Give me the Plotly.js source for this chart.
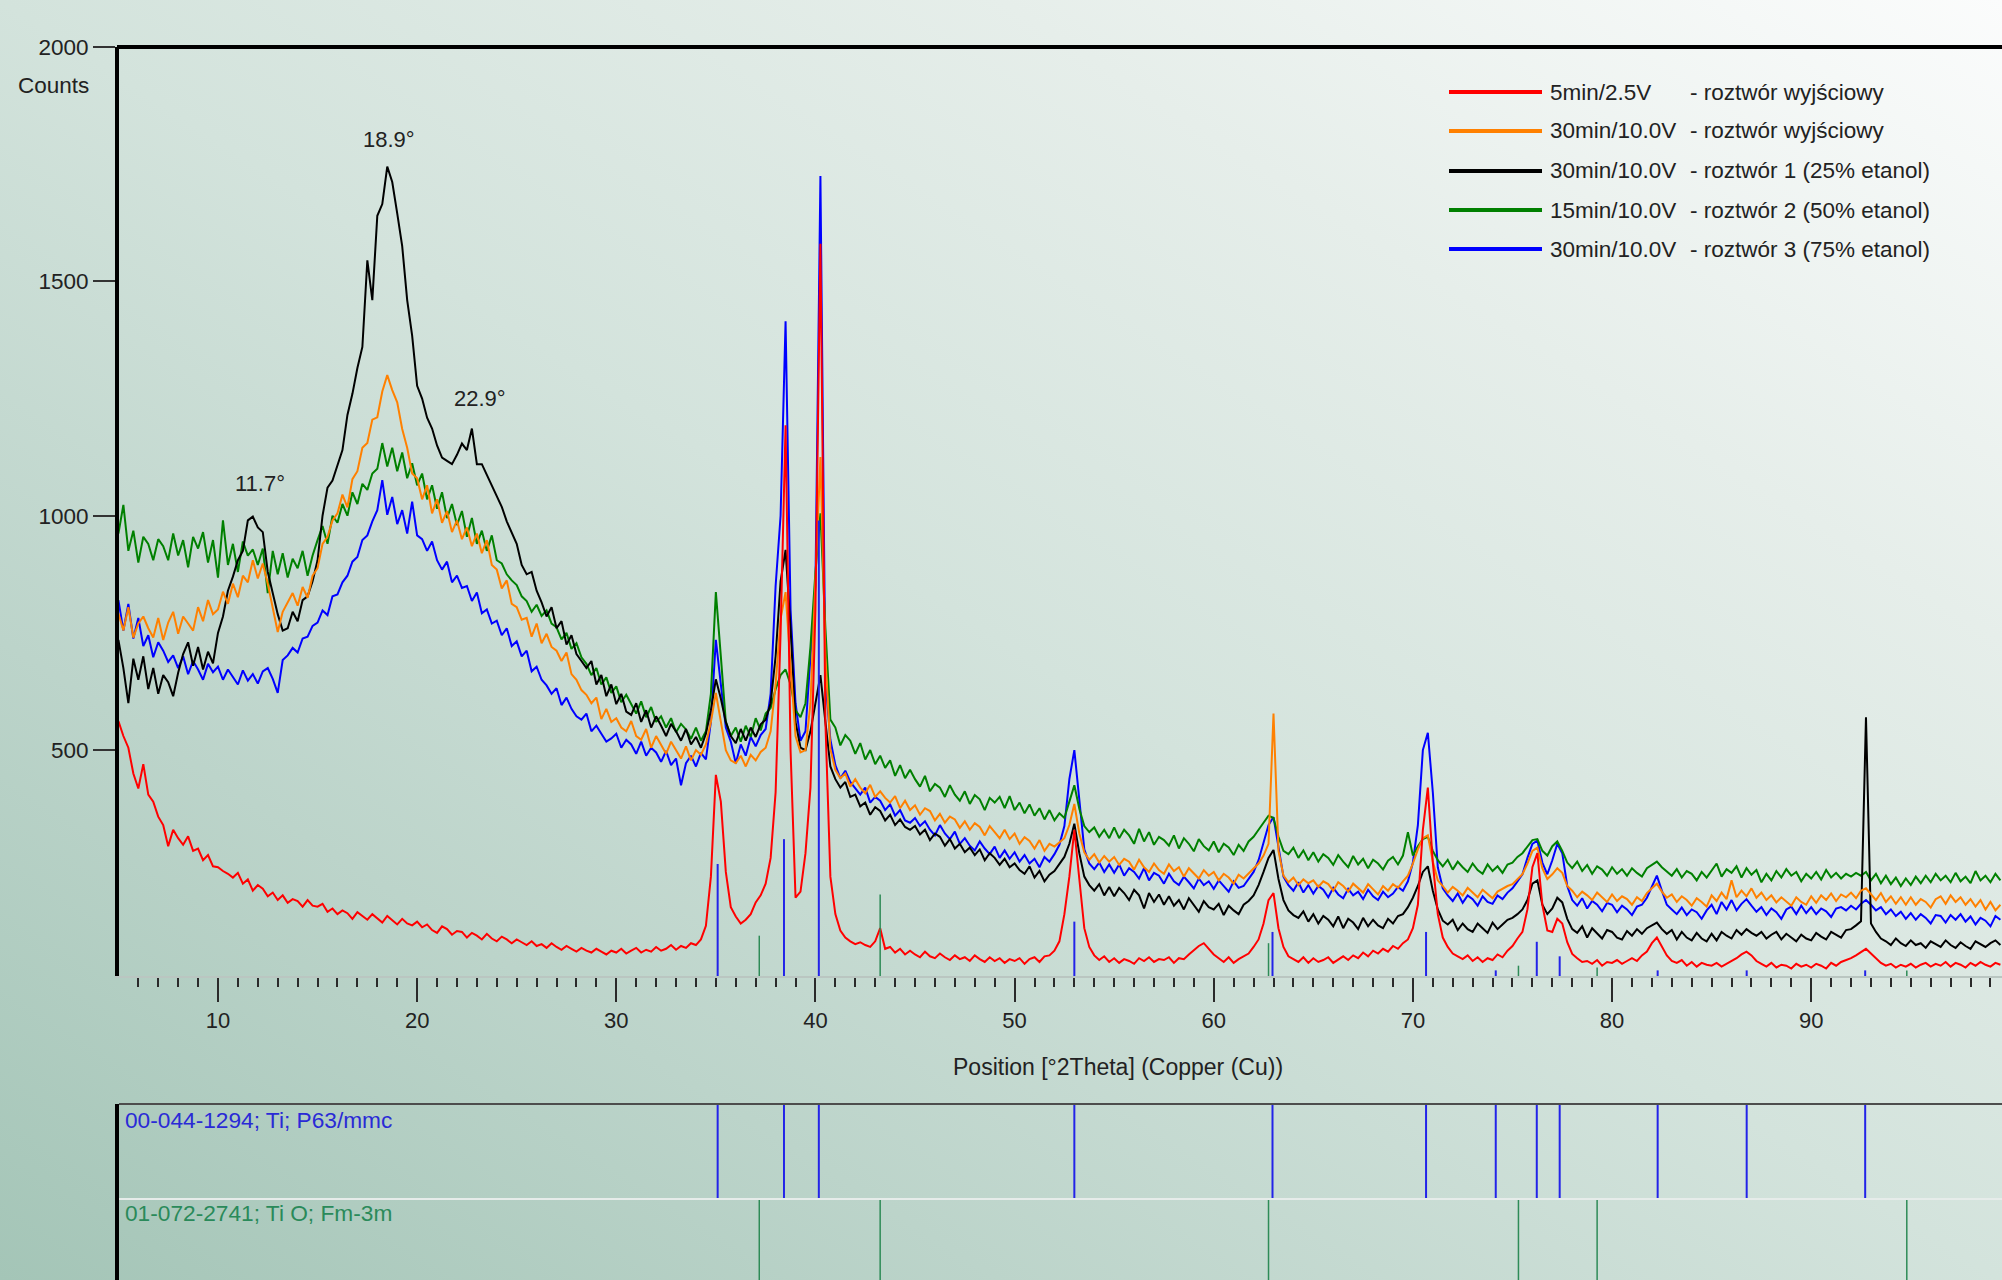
<!DOCTYPE html>
<html>
<head>
<meta charset="utf-8">
<script src="https://cdn.plot.ly/plotly-3.0.1.min.js"></script>
<style>
html,body{margin:0;padding:0;width:2002px;height:1280px;overflow:hidden;
background:linear-gradient(to top right,#a4c5b7 0%,#bcd4ca 25%,#d3e3dc 50%,#e6eeea 75%,#fbfcfc 100%);}
#chart{width:2002px;height:1280px;}
</style>
</head>
<body>
<div id="chart"></div>
<script>
// ---- scan grid (instrument step) ----
const scanStart = 5;
const scanStep = 0.25;

// ---- series labels ----
const seriesLabels = ['5min/2.5V', '30min/10.0V', '30min/10.0V', '15min/10.0V', '30min/10.0V'];
const seriesDescriptions = ['- roztwór wyjściowy', '- roztwór wyjściowy', '- roztwór 1 (25% etanol)', '- roztwór 2 (50% etanol)', '- roztwór 3 (75% etanol)'];
const seriesColors = ['#ff0000', '#ff8000', '#000000', '#008000', '#0000ff'];

// ---- measured counts, 5.00 .. 99.50 °2θ, step 0.25 ----
const countsRed = [
562,530,505,450,418,470,405,390,358,340, 295,330,312,298,316,285,290,265,276,252,
250,242,236,228,238,215,224,200,212,204, 188,196,180,190,174,182,178,166,180,168,
166,172,155,162,150,158,152,140,154,146, 138,150,140,132,146,136,128,140,130,126,
134,122,128,116,110,124,118,106,114,112, 100,110,104,96,108,98,92,102,96,88,
96,90,84,92,82,86,78,88,80,74, 82,76,70,78,72,68,76,70,64,72,
68,76,66,72,78,68,74,70,80,72, 76,84,74,82,78,88,84,96,125,230,
447,390,240,165,145,130,138,150,175,190, 215,270,410,750,1193,500,185,198,280,420,
800,1580,560,230,150,115,100,92,86,90, 84,80,92,120,76,80,68,76,64,72,
64,58,70,60,56,66,58,52,62,54, 58,50,62,54,48,58,50,56,46,54,
50,56,44,54,58,48,60,62,72,92, 150,230,330,225,120,80,62,52,60,48,
56,46,54,50,44,56,50,58,48,54, 52,58,46,56,54,64,74,82,88,76,
64,56,48,58,46,54,60,66,80,96, 130,180,195,120,80,60,54,48,58,46,
56,48,52,58,46,54,60,52,62,56, 68,60,72,66,76,70,82,76,88,96,
120,170,330,420,260,150,100,80,66,60, 54,62,50,58,48,56,52,64,58,72,
82,98,112,160,250,280,170,115,112,140, 130,90,65,56,48,50,44,52,40,48,
46,52,44,50,56,50,62,70,88,100, 82,62,50,46,52,40,48,38,46,42,
40,46,38,44,50,56,64,70,62,50, 44,38,46,36,42,40,34,44,38,42,
36,44,40,34,46,40,48,52,56,62, 70,76,66,55,46,40,44,36,42,38,
44,36,42,46,38,44,40,48,38,46, 42,36,46,40,48,42,38,46,42
];
const countsOrange = [
792,755,805,740,770,785,760,740,782,735, 772,795,748,785,770,755,805,775,820,790,
800,838,812,855,826,872,858,905,866,898, 855,800,752,795,815,835,808,848,825,872,
888,940,955,990,1005,1045,1018,1078,1095,1145, 1155,1205,1210,1265,1300,1268,1242,1185,1145,1090,
1080,1035,1065,1005,1035,985,1010,965,990,950, 975,935,962,920,948,895,885,845,862,812,
805,778,782,742,770,728,748,720,712,690, 708,662,650,628,618,600,612,566,588,560,
568,548,540,562,530,522,545,505,530,512, 492,518,500,482,508,478,500,490,512,560,
622,560,500,478,472,488,465,490,478,496, 505,540,640,780,837,680,530,495,500,600,
850,1125,700,502,458,440,450,422,438,420, 408,426,400,412,398,388,402,376,392,372,
382,362,376,370,350,364,345,358,352,334, 348,330,344,336,318,338,325,312,330,310,
322,300,314,306,290,308,285,300,294,304, 312,340,385,322,282,266,278,260,274,262,
272,255,268,262,245,266,250,240,258,244, 236,256,242,250,230,248,238,226,244,232,
240,222,236,228,215,234,226,236,248,258, 275,300,578,285,232,218,228,212,224,216,
222,208,220,214,200,218,210,198,215,205, 196,214,204,192,210,200,214,206,220,232,
258,288,312,318,262,222,210,196,208,200, 190,206,196,186,202,192,184,198,204,210,
214,225,235,258,285,292,248,225,235,248, 238,210,200,186,198,190,180,196,186,176,
192,178,188,182,170,186,178,195,205,215, 198,185,192,176,188,180,168,184,176,166,
190,178,196,182,222,186,200,188,205,185, 196,180,190,175,186,178,168,186,176,170,
188,174,190,180,194,178,192,186,196,184, 200,205,192,180,195,176,188,172,186,170,
186,170,182,176,164,182,188,172,190,176, 186,170,182,166,180,160,176,158,170
];
const countsBlack = [
735,675,600,695,650,700,630,675,620,660, 645,615,665,705,730,680,720,672,710,685,
750,785,840,870,905,925,990,998,975,965, 880,835,790,755,760,795,775,820,828,860,
905,1000,1060,1075,1110,1140,1215,1260,1315,1360, 1545,1460,1640,1665,1745,1712,1645,1575,1460,1384,
1277,1250,1209,1186,1150,1124,1117,1110,1130,1154, 1140,1186,1110,1110,1087,1064,1042,1019,988,964,
940,895,875,880,840,815,785,805,760,775, 725,745,705,690,675,690,640,660,615,640,
598,620,582,575,600,560,585,548,572,552, 530,556,540,520,545,512,528,505,535,585,
651,610,560,530,515,545,520,548,528,555, 565,600,700,860,927,760,560,505,500,540,
600,660,560,465,438,420,432,400,405,380, 388,362,378,370,350,362,340,352,336,330,
338,320,330,308,322,315,296,310,290,300, 282,292,276,288,265,280,270,255,268,250,
258,244,236,252,228,242,220,234,242,258, 272,300,343,280,230,212,200,214,190,208,
188,206,195,180,202,190,162,195,176,192, 170,188,168,180,160,184,170,155,178,165,
160,172,148,168,158,150,170,178,190,212, 240,270,287,225,180,158,148,142,156,134,
150,130,146,138,124,145,120,140,132,118, 142,124,138,126,120,140,130,146,150,165,
185,210,240,252,200,160,136,128,138,116, 130,118,112,130,120,110,132,118,128,138,
142,150,160,180,215,222,170,150,162,185, 175,140,118,110,124,100,120,108,98,116,
112,100,96,114,104,118,108,120,126,132, 118,108,116,96,112,100,94,110,98,92,
108,94,112,104,98,116,106,118,110,104, 112,98,106,112,96,108,100,92,106,98,
94,110,102,96,112,106,100,116,118,126, 135,570,130,112,98,92,84,98,88,82,
94,84,88,78,92,86,80,94,84,78, 90,82,76,92,86,80,88,94,84
];
const countsGreen = [
962,1023,925,968,900,955,940,905,950,935, 905,962,915,948,890,955,930,965,900,948,
868,990,895,940,880,945,915,928,895,930, 835,925,875,920,868,908,888,925,872,915,
948,978,940,1000,985,1025,1000,1050,1025,1068, 1055,1090,1100,1155,1105,1145,1095,1135,1080,1112,
1065,1090,1035,1065,1015,1050,995,1025,980,1010, 955,995,940,968,925,958,905,898,875,862,
852,828,818,795,810,786,798,770,762,736, 750,716,728,698,684,660,675,640,655,622,
636,602,618,598,578,604,570,592,560,572, 548,568,538,556,544,524,548,520,540,620,
837,700,560,530,548,518,552,528,568,542, 578,590,630,660,672,640,585,570,600,720,
880,1005,760,565,548,510,532,520,492,515, 480,500,470,488,462,478,445,468,440,458,
438,422,445,412,428,420,400,425,405,392, 412,385,404,395,372,398,388,400,376,402,
372,388,365,384,360,376,352,372,350,365, 355,390,425,375,338,325,335,315,330,312,
335,312,330,318,300,332,305,325,298,315, 308,296,318,290,312,300,284,310,295,286,
305,282,300,292,276,298,285,305,315,330, 345,360,355,315,285,278,292,270,286,265,
282,262,278,270,255,276,262,250,274,256, 268,248,266,258,245,264,272,256,275,325,
275,295,310,315,285,265,252,266,245,262, 250,240,258,244,236,256,242,252,238,256,
260,272,280,295,308,310,285,275,295,305, 285,260,248,262,242,255,236,252,245,232,
250,236,246,232,248,238,230,248,255,262, 250,240,232,246,228,242,236,222,240,228,
242,258,230,246,238,252,228,248,234,244, 218,236,222,242,228,246,232,240,220,236,
226,240,224,244,228,238,226,236,230,238, 232,240,222,236,216,232,214,228,210,226,
212,230,216,232,218,236,222,232,218,238, 220,230,216,242,222,232,218,236,222
];
const countsBlue = [
820,755,812,738,782,722,745,698,730,712, 688,702,675,700,662,690,672,650,684,666,
678,650,672,655,640,670,648,662,642,668, 675,652,622,692,702,718,708,738,742,765,
772,798,788,828,832,858,872,902,912,948, 958,988,1012,1076,1002,1040,982,1012,962,1030,
958,950,925,945,905,885,902,858,872,846, 850,818,836,792,800,770,776,745,760,722,
732,700,712,668,678,650,638,620,632,596, 612,588,572,565,578,540,552,535,518,525,
535,505,522,512,492,518,488,505,495,475, 498,468,482,425,472,488,465,494,480,560,
735,640,548,518,472,512,488,528,508,532, 545,620,850,1000,1415,800,600,520,540,700,
850,1725,650,522,468,440,456,432,418,405, 420,388,400,392,372,384,360,372,350,345,
355,338,348,330,318,340,322,310,326,300, 312,296,286,305,290,278,294,270,286,268,
282,262,276,258,268,250,272,262,278,298, 338,438,500,388,288,258,246,260,240,256,
238,256,232,248,240,226,248,222,238,232, 215,236,220,212,230,218,205,226,212,220,
204,222,210,198,220,206,210,226,240,265, 300,340,357,290,230,212,200,218,196,212,
194,210,202,186,206,192,184,204,190,198, 182,202,188,180,198,186,194,208,200,220,
260,340,500,537,410,250,205,190,178,194, 174,190,182,168,188,176,172,190,182,196,
205,220,235,270,300,307,260,235,265,300, 280,210,180,168,184,162,178,170,156,174,
170,154,168,160,148,166,170,185,210,232, 200,170,160,150,164,148,160,154,140,158,
170,150,176,160,180,158,172,182,168,155, 165,148,162,154,140,160,166,150,168,152,
165,150,162,156,144,162,165,158,168,160, 172,180,170,158,165,150,160,146,155,140,
152,138,150,142,130,148,146,132,148,138, 150,134,145,128,142,136,124,146,138
];

// ---- reference patterns ----
const tiCardLabel = '00-044-1294; Ti; P63/mmc';
const tiPeakPositions = [35.09, 38.42, 40.17, 53.00, 62.95, 70.66, 74.16, 76.22, 77.37, 82.29, 86.76, 92.71];
const tiStickTops = [257, 310, 990, 134, 112, 112, 30, 91, 60, 30, 30, 30];
const tioCardLabel = '01-072-2741; Ti O; Fm-3m';
const tioPeakPositions = [37.18, 43.25, 62.75, 75.30, 79.25, 94.80];
const tioStickTops = [104, 192, 88, 40, 36, 30];

// ---- peak labels ----
const peakLabels = ['18.9°', '22.9°', '11.7°'];
const peakLabelX = [18.57, 23.14, 12.1];
const peakLabelY = [1802, 1251, 1069];

// ---- axis ----
const xAxisTitle = 'Position [°2Theta] (Copper (Cu))';
const yAxisTitle = 'Counts';
const xTickStep = 10;
const yTickValues = [500, 1000, 1500, 2000];
const yBase = 18;

// ============ build ============
const W = 2002, H = 1280;
const px = v => v / W;
const py = v => 1 - v / H;
const FONT = 'Liberation Sans, Arial, Helvetica, sans-serif';

const allCounts = [countsRed, countsOrange, countsBlack, countsGreen, countsBlue];
const gridFor = arr => arr.map((_, i) => scanStart + i * scanStep);

const traces = [];
// drawing order: blue, green, black, orange, red
[4, 3, 2, 1, 0].forEach(k => {
  traces.push({
    type: 'scatter', mode: 'lines',
    x: gridFor(allCounts[k]), y: allCounts[k],
    name: seriesLabels[k] + ' ' + seriesDescriptions[k],
    line: {color: seriesColors[k], width: 2},
    xaxis: 'x', yaxis: 'y', hoverinfo: 'skip', showlegend: false
  });
});

function sticks(pos, tops, base) {
  const x = [], y = [];
  pos.forEach((p, i) => { x.push(p, p, null); y.push(base, tops[i], null); });
  return {x, y};
}
const tiMain = sticks(tiPeakPositions, tiStickTops, yBase);
const tioMain = sticks(tioPeakPositions, tioStickTops, yBase);
traces.push({type:'scatter', mode:'lines', x: tiMain.x, y: tiMain.y, line:{color:'#2323e8', width:2}, xaxis:'x', yaxis:'y', hoverinfo:'skip', showlegend:false});
traces.push({type:'scatter', mode:'lines', x: tioMain.x, y: tioMain.y, line:{color:'#2e8b57', width:1.5}, xaxis:'x', yaxis:'y', hoverinfo:'skip', showlegend:false});

const tiPanel = sticks(tiPeakPositions, tiPeakPositions.map(() => 1), 0);
const tioPanel = sticks(tioPeakPositions, tioPeakPositions.map(() => 1), 0);
traces.push({type:'scatter', mode:'lines', x: tiPanel.x, y: tiPanel.y, line:{color:'#2323e8', width:2}, xaxis:'x2', yaxis:'y2', hoverinfo:'skip', showlegend:false});
traces.push({type:'scatter', mode:'lines', x: tioPanel.x, y: tioPanel.y, line:{color:'#2e8b57', width:1.5}, xaxis:'x3', yaxis:'y3', hoverinfo:'skip', showlegend:false});

const xRange = [5.03, 99.58];
const plotLeft = px(119);

const shapes = [
  {type:'line', xref:'paper', yref:'paper', x0: plotLeft - px(2), x1: 1, y0: py(47), y1: py(47), line:{color:'#000', width:4}},
  {type:'line', xref:'paper', yref:'paper', x0: plotLeft, x1: 1, y0: py(1104), y1: py(1104), line:{color:'#4d4d4d', width:2}},
  {type:'line', xref:'paper', yref:'paper', x0: plotLeft, x1: 1, y0: py(1199), y1: py(1199), line:{color:'#e6ecea', width:2}}
];

const annotations = [];
// legend (custom, two columns)
const legendRows = [92, 131, 171, 210, 249];
legendRows.forEach((ry, i) => {
  shapes.push({type:'line', xref:'paper', yref:'paper', x0: px(1449), x1: px(1542), y0: py(ry), y1: py(ry), line:{color: seriesColors[i], width:4}});
  annotations.push({xref:'paper', yref:'paper', x: px(1548), y: py(ry), xanchor:'left', yanchor:'middle', showarrow:false, text: seriesLabels[i], font:{size:22.5, color:'#222', family: FONT}});
  annotations.push({xref:'paper', yref:'paper', x: px(1688), y: py(ry), xanchor:'left', yanchor:'middle', showarrow:false, text: seriesDescriptions[i], font:{size:22.5, color:'#222', family: FONT}});
});
peakLabels.forEach((t, i) => {
  annotations.push({xref:'x', yref:'y', x: peakLabelX[i], y: peakLabelY[i], showarrow:false, text: t, xanchor:'center', yanchor:'middle', font:{size:22, color:'#222', family: FONT}});
});
annotations.push({xref:'paper', yref:'paper', x: px(91), y: py(86), xanchor:'right', yanchor:'middle', showarrow:false, text: yAxisTitle, font:{size:22.5, color:'#222', family: FONT}});
annotations.push({xref:'paper', yref:'paper', x: px(1118), y: py(1067), xanchor:'center', yanchor:'middle', showarrow:false, text: xAxisTitle, font:{size:23, color:'#222', family: FONT}});
annotations.push({xref:'paper', yref:'paper', x: px(123), y: py(1120), xanchor:'left', yanchor:'middle', showarrow:false, text: tiCardLabel, font:{size:22.7, color:'#2a2ad6', family: FONT}});
annotations.push({xref:'paper', yref:'paper', x: px(123), y: py(1213), xanchor:'left', yanchor:'middle', showarrow:false, text: tioCardLabel, font:{size:22.7, color:'#2a8a5a', family: FONT}});

const layout = {
  width: W, height: H,
  margin: {l:0, r:0, t:0, b:0, pad:0},
  paper_bgcolor: 'rgba(0,0,0,0)',
  plot_bgcolor: 'rgba(0,0,0,0)',
  font: {family: FONT, size: 22, color: '#222'},
  showlegend: false,
  xaxis: {
    domain: [plotLeft, 1], range: xRange, anchor: 'y',
    showline: true, linecolor: '#bac6c1', linewidth: 2,
    ticks: 'outside', tick0: 0, dtick: xTickStep, ticklen: 24, tickwidth: 2, tickcolor: '#2a2a2a',
    minor: {dtick: 1, tick0: 0, ticks: 'outside', ticklen: 9, tickwidth: 2, tickcolor: '#2a2a2a', showgrid: false},
    tickfont: {size: 22, color: '#222'},
    showgrid: false, zeroline: false
  },
  yaxis: {
    domain: [py(976), py(47)], range: [yBase, 2000], anchor: 'x',
    showline: true, linecolor: '#000', linewidth: 4,
    ticks: 'outside', ticklen: 22, tickwidth: 2, tickcolor: '#333',
    tickvals: yTickValues, tickfont: {size: 22.5, color: '#222'},
    showgrid: false, zeroline: false
  },
  xaxis2: {domain: [plotLeft, 1], range: xRange, anchor: 'y2', showline: false, showticklabels: false, ticks: '', showgrid: false, zeroline: false},
  yaxis2: {domain: [py(1199), py(1104)], range: [0, 1], anchor: 'x2', showline: true, linecolor: '#000', linewidth: 4, showticklabels: false, ticks: '', showgrid: false, zeroline: false},
  xaxis3: {domain: [plotLeft, 1], range: xRange, anchor: 'y3', showline: false, showticklabels: false, ticks: '', showgrid: false, zeroline: false},
  yaxis3: {domain: [0, py(1199)], range: [0, 1], anchor: 'x3', showline: true, linecolor: '#000', linewidth: 4, showticklabels: false, ticks: '', showgrid: false, zeroline: false},
  shapes: shapes,
  annotations: annotations
};

Plotly.newPlot('chart', traces, layout, {staticPlot: true, displayModeBar: false});
</script>
</body>
</html>
